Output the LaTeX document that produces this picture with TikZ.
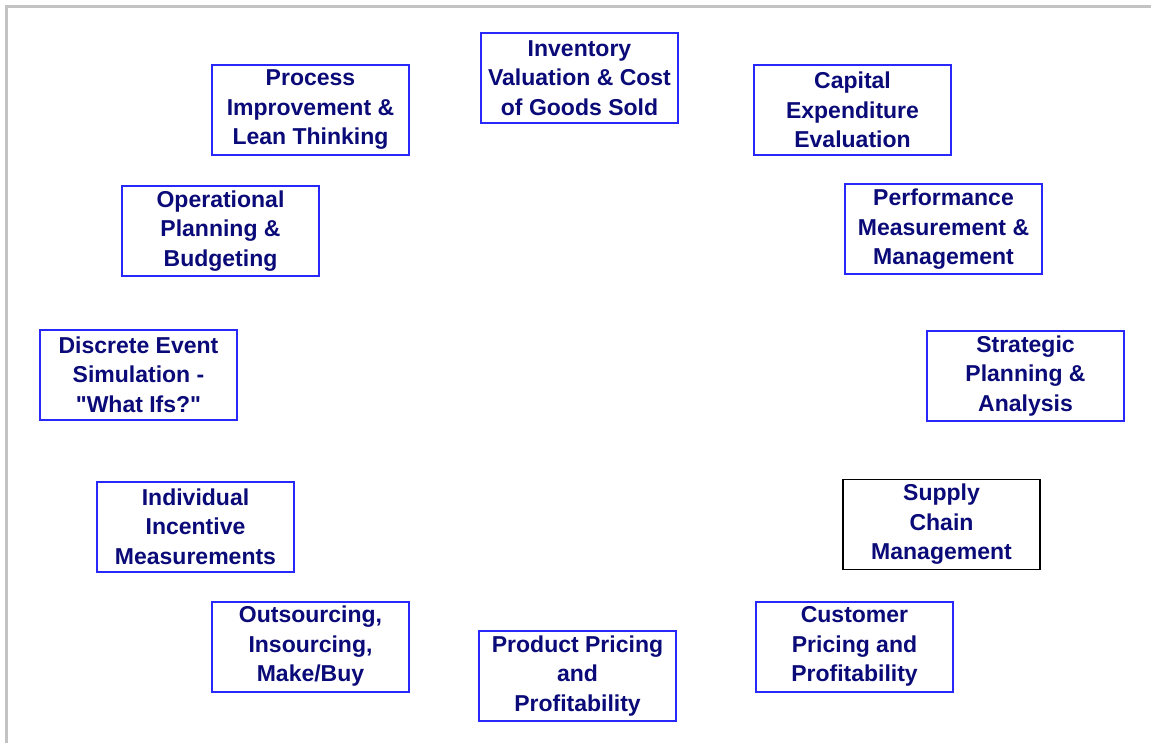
\documentclass[tikz,border=0pt]{standalone}
\usepackage{fontspec}
\setmainfont{Liberation Sans}[Ligatures=TeXOff]
\definecolor{boxblue}{RGB}{40,40,250}
\definecolor{labelnavy}{RGB}{10,10,120}
\definecolor{framegray}{RGB}{195,195,195}
\begin{document}
\begin{tikzpicture}[
        x=0.5pt, y=-0.5pt,
        box/.style={rectangle, draw=boxblue, line width=1pt, fill=white, text=labelnavy,
            minimum width=98.5pt, minimum height=45pt, inner sep=0pt, align=center,
            font=\fontsize{11.5}{14.75}\selectfont\bfseries},
        blackbox/.style={box, draw=black, line width=0.8pt},
        frame/.style={draw=framegray, line width=1.2pt}
    ]

    \useasboundingbox (0,0) rectangle (1151,743);

    % outer frame (top and left edges only)
    \draw[frame] (6.5,743) -- (6.5,6.5) -- (1151,6.5);

    % top row
    \node[box] (inventory) at (579.5,78) {Inventory\\Valuation \& Cost\\of Goods Sold};
    \node[box] (process) at (310.5,110) {Process\\Improvement \&\\Lean Thinking};
    \node[box] (capital) at (852.5,110) {Capital\\Expenditure\\Evaluation};

    % left side
    \node[box] (operational) at (220.5,231) {Operational\\Planning \&\\Budgeting};
    \node[box] (discrete) at (138.5,374.5) {Discrete Event\\Simulation -\\"What Ifs?"};
    \node[box] (incentive) at (195.5,526.5) {Individual\\Incentive\\Measurements};
    \node[box] (outsourcing) at (310.5,646.5) {Outsourcing,\\Insourcing,\\Make/Buy};

    % right side
    \node[box] (performance) at (943.5,229.5) {Performance\\Measurement \&\\Management};
    \node[box] (strategic) at (1025.5,376) {Strategic\\Planning \&\\Analysis};
    \node[blackbox] (supply) at (941.5,524.5) {Supply\\Chain\\Management};
    \node[box] (customer) at (854.5,646.5) {Customer\\Pricing and\\Profitability};

    % bottom
    \node[box] (product) at (577.5,676) {Product Pricing\\and\\Profitability};

\end{tikzpicture}
\end{document}
